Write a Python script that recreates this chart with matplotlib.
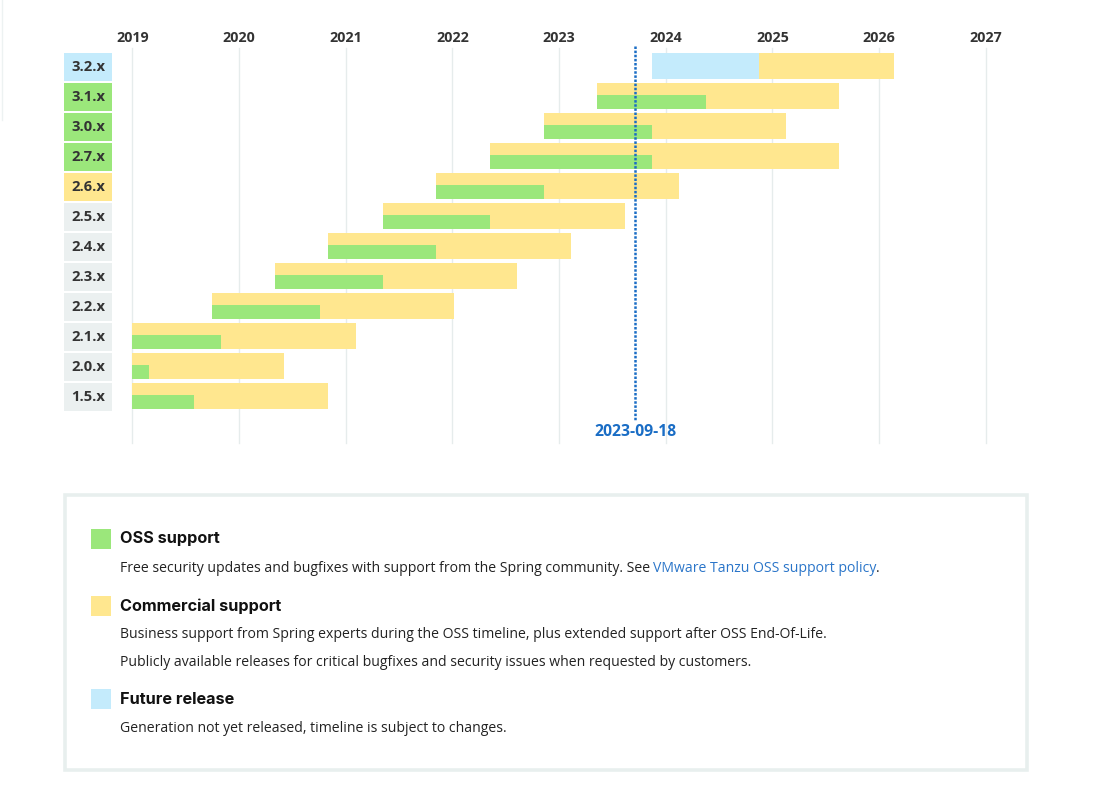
import datetime as dt
import matplotlib
matplotlib.use("Agg")
import matplotlib.pyplot as plt
from matplotlib.patches import Rectangle

# ---------------- data ----------------
versions = ["3.2.x", "3.1.x", "3.0.x", "2.7.x", "2.6.x", "2.5.x",
            "2.4.x", "2.3.x", "2.2.x", "2.1.x", "2.0.x", "1.5.x"]
status = ["future", "oss", "oss", "oss", "commercial", "eol",
          "eol", "eol", "eol", "eol", "eol", "eol"]
start_dates = ["2023-11-16", "2023-05-12", "2022-11-10", "2022-05-08", "2021-11-07", "2021-05-08",
               "2020-11-03", "2020-05-05", "2019-10-01", "2019-01-01", "2019-01-01", "2019-01-01"]
oss_end = [None, "2024-05-18", "2023-11-16", "2023-11-16", "2022-11-10", "2022-05-08",
           "2021-11-07", "2021-05-08", "2020-10-05", "2019-10-30", "2019-02-28", "2019-07-30"]
future_end = ["2024-11-15", None, None, None, None, None, None, None, None, None, None, None]
commercial_end = ["2026-02-20", "2025-08-18", "2025-02-16", "2025-08-18", "2024-02-14", "2023-08-14",
                  "2023-02-10", "2022-08-10", "2022-01-05", "2021-02-05", "2020-06-03", "2020-11-03"]
years = [2019, 2020, 2021, 2022, 2023, 2024, 2025, 2026, 2027]
today = "2023-09-18"

# ---------------- style ----------------
GREEN = "#9be77b"
YELLOW = "#ffe78f"
BLUE = "#c4ebfc"
GRAY_BOX = "#ebf0f0"
GRID = "#e6ecec"
TEXT = "#333333"
LINK = "#2a75c9"
DATE_BLUE = "#1a6dc5"
box_col = {"future": BLUE, "oss": GREEN, "commercial": YELLOW, "eol": GRAY_BOX}


def fy(s):
    d = dt.date.fromisoformat(s)
    y0 = dt.date(d.year, 1, 1)
    y1 = dt.date(d.year + 1, 1, 1)
    return d.year + (d - y0).days / (y1 - y0).days


W, H = 1111, 800
fig = plt.figure(figsize=(W / 100, H / 100), dpi=100)
fig.patch.set_facecolor("white")

# chart axes covering the full figure: x in years, y in row units
PX_2019 = 132.3
PX_YEAR = 106.7
ROW0 = 67.0
ROW_H = 30.0
ax = fig.add_axes([0, 0, 1, 1])
ax.set_xlim(2019 - PX_2019 / PX_YEAR, 2019 + (W - PX_2019) / PX_YEAR)
ax.set_ylim((H - ROW0) / ROW_H, -ROW0 / ROW_H)
ax.axis("off")


def py(p):
    return (p - ROW0) / ROW_H


def px(p):
    return 2019 + (p - PX_2019) / PX_YEAR


# gridlines and year labels
for yr in years:
    ax.plot([yr, yr], [py(48), py(443)], color=GRID, lw=1.0, zorder=0)
    ax.text(yr, py(38), str(yr), ha="center", va="center", fontsize=10.3,
            fontweight="bold", color=TEXT, family="Open Sans")

bar_h = 26 / ROW_H
green_h = 14 / ROW_H
for i, v in enumerate(versions):
    top = py(ROW0 + i * ROW_H - 14)
    # label box
    ax.add_patch(Rectangle((px(64), top), 48 / PX_YEAR, 28 / ROW_H,
                           facecolor=box_col[status[i]], edgecolor="none", zorder=2))
    ax.text(px(88), top + 14 / ROW_H, v, ha="center", va="center", fontsize=10.6,
            fontweight="bold", color=TEXT, family="Open Sans", zorder=3)
    s = fy(start_dates[i])
    ce = fy(commercial_end[i])
    if future_end[i]:
        fe = fy(future_end[i])
        ax.barh(top, fe - s, left=s, height=bar_h, align="edge", color=BLUE, zorder=2)
        ax.barh(top, ce - fe, left=fe, height=bar_h, align="edge", color=YELLOW, zorder=2)
    else:
        ax.barh(top, ce - s, left=s, height=bar_h, align="edge", color=YELLOW, zorder=2)
        oe = fy(oss_end[i])
        ax.barh(top + bar_h - green_h, oe - s, left=s, height=green_h, align="edge",
                color=GREEN, zorder=3)

# today marker
t = fy(today)
ax.plot([t, t], [py(46), py(420)], color=DATE_BLUE, lw=1.8,
        linestyle=(0, (1.0, 0.65)), dash_capstyle="butt", zorder=5)
ax.text(t, py(432), today, ha="center", va="center", fontsize=11.3,
        fontweight="bold", color=DATE_BLUE, family="Open Sans", zorder=5)

# faint left edge line
ax.plot([px(2.3), px(2.3)], [py(0), py(120)], color="#edf2f2", lw=1.0, zorder=0)

# ---------------- legend panel (pixel overlay) ----------------
lax = fig.add_axes([0, 0, 1, 1])
lax.set_xlim(0, W)
lax.set_ylim(H, 0)
lax.axis("off")
lax.patch.set_alpha(0)
lax.add_patch(Rectangle((65, 495), 962, 275, facecolor="white",
                        edgecolor="#e8efee", lw=3.6 * 0.72))

legend_items = [
    (GREEN, "OSS support", 539,
     [(566, ["Free security updates and bugfixes with support from the Spring community. See",
             "VMware Tanzu OSS support policy", "."])]),
    (YELLOW, "Commercial support", 606,
     [(632, ["Business support from Spring experts during the OSS timeline, plus extended support after OSS End-Of-Life."]),
      (660, ["Publicly available releases for critical bugfixes and security issues when requested by customers."])]),
    (BLUE, "Future release", 699,
     [(727, ["Generation not yet released, timeline is subject to changes."])]),
]

fig.canvas.draw()
renderer = fig.canvas.get_renderer()
for col, head, hy, lines in legend_items:
    lax.add_patch(Rectangle((91, hy - 10), 20, 20, facecolor=col, edgecolor="none"))
    lax.text(120.5, hy, head, ha="left", va="center", fontsize=11.7,
             fontweight="bold", color="#111111", family="Inter")
    for ly, parts in lines:
        x = 120.5
        for k, part in enumerate(parts):
            color = LINK if (len(parts) == 3 and k == 1) else "#222222"
            if k == 1:
                x += 2.0
            tt = lax.text(x, ly, part, ha="left", va="center_baseline", fontsize=10.1,
                          color=color, family="Open Sans")
            bb = tt.get_window_extent(renderer)
            x = bb.x1

fig.savefig("out.png", dpi=100, facecolor="white")
